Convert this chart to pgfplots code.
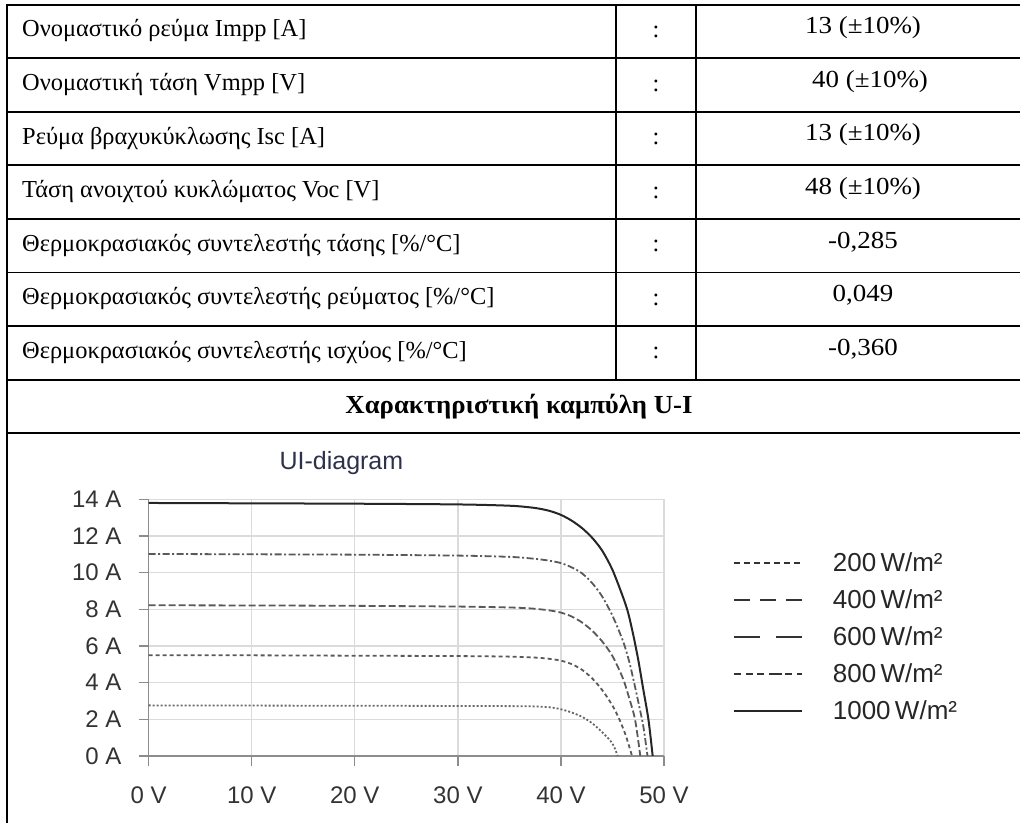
\documentclass[border=0pt]{standalone}
\usepackage{fontspec}
\setmainfont{Liberation Serif}
\newfontfamily\chartfont{Liberation Sans}
\usepackage{graphicx}
\usepackage{pgfplots}
\pgfplotsset{compat=1.18}
\definecolor{titlecol}{RGB}{45,50,75}
\pgfplotstableread{
V I
0 2.76
10 2.75
20 2.74
30 2.73
35 2.72
37 2.71
38 2.69
39 2.65
40 2.55
41 2.38
42 2.15
43 1.80
44 1.30
45 0.68
45.5 0
}\gtwo
\pgfplotstableread{
V I
0 5.50
10 5.49
20 5.47
30 5.45
35 5.42
37 5.38
38 5.35
39 5.29
40 5.20
41 5.02
42 4.72
43 4.25
44 3.60
45 2.75
45.7 1.96
46.3 1.10
46.9 0
}\gfour
\pgfplotstableread{
V I
0 8.22
10 8.21
20 8.19
30 8.15
35 8.10
37 8.05
38 8.00
39 7.93
40 7.82
41 7.62
42 7.30
43 6.85
44 6.25
45 5.45
46 4.25
46.6 3.20
47.2 1.96
47.7 0
}\gsix
\pgfplotstableread{
V I
0 11.02
10 11.00
20 10.98
30 10.93
35 10.86
37 10.78
38 10.72
39 10.64
40 10.52
41 10.30
42 9.98
43 9.45
44 8.70
45 7.65
46 6.30
46.6 5.20
47.1 4.00
47.6 2.70
48.0 1.60
48.4 0
}\geight
\pgfplotstableread{
V I
0 13.80
10 13.78
20 13.76
30 13.72
35 13.65
37 13.56
38 13.48
39 13.35
40 13.15
41 12.85
42 12.45
43 11.92
44 11.20
45 10.15
46 8.70
46.5 7.85
47 6.65
47.5 5.25
48 3.60
48.5 1.95
48.9 0
}\gten
\newcommand{\vals}[1]{\scalebox{1.1}[1]{#1}}
\begin{document}
\begin{tikzpicture}
\path[use as bounding box] (0pt,0pt) rectangle (1020pt,822pt);
% table rules
\begin{scope}[line width=1.8pt, draw=black]
\foreach \y in {817.3,763.7,710.1,656.6,603.0,549.4,495.8,442.2,388.7}
  \draw (6.1pt,\y pt) -- (1030pt,\y pt);
\draw (7pt,818.2pt) -- (7pt,-5pt);
\draw (616pt,818.2pt) -- (616pt,441.3pt);
\draw (696pt,818.2pt) -- (696pt,441.3pt);
\end{scope}
% table text
\begin{scope}[every node/.style={inner sep=0pt}, font=\fontsize{24.4}{24.4}\selectfont]
\node[anchor=base west] at (22pt,785.0pt) {Ονομαστικό ρεύμα Impp [A]};
\node[anchor=base west] at (22pt,731.4pt) {Ονομαστική τάση Vmpp [V]};
\node[anchor=base west] at (22pt,677.8pt) {Ρεύμα βραχυκύκλωσης Isc [A]};
\node[anchor=base west] at (22pt,624.3pt) {Τάση ανοιχτού κυκλώματος Voc [V]};
\node[anchor=base west] at (22pt,570.7pt) {Θερμοκρασιακός συντελεστής τάσης [\%/°C]};
\node[anchor=base west] at (22pt,517.1pt) {Θερμοκρασιακός συντελεστής ρεύματος [\%/°C]};
\node[anchor=base west] at (22pt,463.5pt) {Θερμοκρασιακός συντελεστής ισχύος [\%/°C]};
\foreach \y in {784.5,730.9,677.3,623.8,570.2,516.6,463.0}
  \node[anchor=base] at (656pt,\y pt) {:};
\begin{scope}[font=\fontsize{24.5}{24.5}\selectfont]
\node[anchor=base] at (863pt,788.2pt) {\vals{13 (±10\%)}};
\node[anchor=base] at (870pt,734.6pt) {\vals{40 (±10\%)}};
\node[anchor=base] at (863pt,681.0pt) {\vals{13 (±10\%)}};
\node[anchor=base] at (863pt,627.5pt) {\vals{48 (±10\%)}};
\node[anchor=base] at (863pt,573.9pt) {\vals{-0,285}};
\node[anchor=base] at (863pt,520.3pt) {\vals{0,049}};
\node[anchor=base] at (863pt,466.7pt) {\vals{-0,360}};
\end{scope}
\node[anchor=base, font=\fontsize{26}{26}\selectfont\bfseries] at (519pt,408.5pt) {\scalebox{1.03}[1]{Χαρακτηριστική καμπύλη U-I}};
\end{scope}
\begin{axis}[
  at={(148.7pt,66pt)}, anchor=south west,
  scale only axis, width=515.3pt, height=256.7pt,
  xmin=0, xmax=50, ymin=0, ymax=14,
  axis lines=left,
  axis line style={-, draw=black!45, line width=1.3pt},
  grid=major,
  grid style={draw=black!14, line width=1.3pt},
  xtick={0,10,20,30,40,50},
  ytick={0,2,4,6,8,10,12,14},
  xticklabels={0 V,10 V,20 V,30 V,40 V,50 V},
  yticklabels={0 A,2 A,4 A,6 A,8 A,10 A,12 A,14 A},
  tick align=outside,
  major tick length=10pt,
  tick style={draw=black!45, line width=1.3pt},
  /pgf/number format/assume math mode=true,
  ticklabel style={font=\chartfont\fontsize{24}{24}\selectfont, text=black!80, inner sep=0pt},
  yticklabel style={anchor=east, xshift=-17pt},
  xticklabel style={anchor=north, yshift=-21pt},
  title={UI-diagram},
  title style={at={(axis description cs:0.374,1)}, anchor=base, yshift=23.5pt, inner sep=0pt,
    font=\chartfont\fontsize{25}{25}\selectfont, text=titlecol},
  legend style={at={(axis description cs:1.134,0.456)}, anchor=west, draw=none, fill=none,
    inner sep=0pt, outer sep=0pt, row sep=13pt,
    font=\chartfont\fontsize{26}{26}\selectfont,
    nodes={inner sep=0pt, text=black!85, text height=19pt, text depth=5pt},
    /tikz/every odd column/.append style={column sep=30pt}},
  legend cell align=left,
]
\addplot[smooth, draw=black!60, line width=1.8pt, dash pattern=on 2pt off 2pt,
  legend image code/.code={\draw[black!80, line width=1.8pt, dash pattern=on 6pt off 4pt] (0pt,2pt) -- (68pt,2pt);}]
  table[x=V,y=I] {\gtwo};
\addlegendentry{200\,W/m²}
\addplot[smooth, draw=black!65, line width=1.8pt, dash pattern=on 4pt off 3pt,
  legend image code/.code={\draw[black!80, line width=1.8pt, dash pattern=on 16pt off 10pt] (0pt,2pt) -- (68pt,2pt);}]
  table[x=V,y=I] {\gfour};
\addlegendentry{400\,W/m²}
\addplot[smooth, draw=black!65, line width=1.8pt, dash pattern=on 7pt off 3pt,
  legend image code/.code={\draw[black!80, line width=1.8pt, dash pattern=on 26pt off 16pt] (0pt,2pt) -- (68pt,2pt);}]
  table[x=V,y=I] {\gsix};
\addlegendentry{600\,W/m²}
\addplot[smooth, draw=black!65, line width=1.8pt, dash pattern=on 7pt off 2.5pt on 2pt off 2.5pt,
  legend image code/.code={\draw[black!80, line width=1.8pt, dash pattern=on 7pt off 5pt on 7pt off 4pt on 7pt off 5pt on 13pt off 3pt on 7pt off 5pt on 6pt off 5pt] (0pt,2pt) -- (68pt,2pt);}]
  table[x=V,y=I] {\geight};
\addlegendentry{800\,W/m²}
\addplot[smooth, draw=black!85, line width=2pt,
  legend image code/.code={\draw[black!85, line width=1.8pt] (0pt,2pt) -- (68pt,2pt);}]
  table[x=V,y=I] {\gten};
\addlegendentry{1000\,W/m²}
\end{axis}
\end{tikzpicture}
\end{document}
